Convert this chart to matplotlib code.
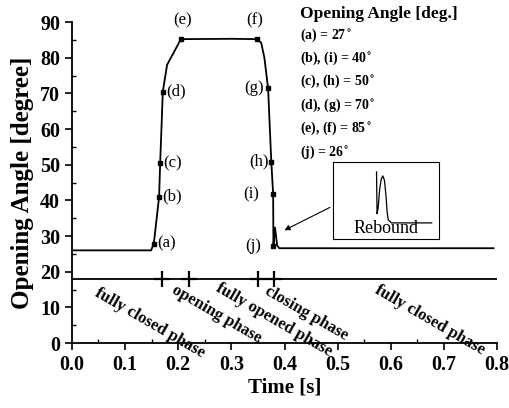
import matplotlib
matplotlib.use('Agg')
import matplotlib.pyplot as plt
from matplotlib.ticker import MultipleLocator

plt.rcParams['font.family'] = ['Liberation Serif', 'DejaVu Serif']
plt.rcParams['font.weight'] = 'bold'

# opening angle curve
time = [0.0, 0.149, 0.154, 0.164, 0.166, 0.171, 0.179, 0.205, 0.300, 0.348,
        0.356, 0.362, 0.369, 0.375, 0.3785, 0.379, 0.382, 0.386, 0.390, 0.793]
angle = [26.0, 26.0, 27.9, 41.0, 50.5, 70.5, 78.0, 85.2, 85.3, 85.2,
         84.2, 80.0, 71.4, 50.8, 41.8, 27.1, 32.4, 27.4, 26.6, 26.6]

# marked points (a)..(j)
mark_t = [0.154, 0.164, 0.166, 0.171, 0.205, 0.348, 0.369, 0.375, 0.3785, 0.379]
mark_v = [27.9, 41.0, 50.5, 70.5, 85.2, 85.2, 71.4, 50.8, 41.8, 27.1]
mark_names = ['(a)', '(b)', '(c)', '(d)', '(e)', '(f)', '(g)', '(h)', '(i)', '(j)']

# phase bar
phase_level = 18
phase_edges = [0.17, 0.22, 0.35, 0.38]
phase_names = ['fully closed phase', 'opening phase', 'fully opened phase',
               'closing phase', 'fully closed phase']
phase_label_t = [0.147, 0.273, 0.380, 0.441, 0.674]
phase_label_v = [5.6, 8.2, 6.5, 8.2, 6.5]

legend_title = 'Opening Angle [deg.]'
legend_items = ['(a) = 27$^{\\circ}$', '(b), (i) = 40$^{\\circ}$', '(c), (h) = 50$^{\\circ}$',
                '(d), (g) = 70$^{\\circ}$', '(e), (f) = 85$^{\\circ}$', '(j) = 26$^{\\circ}$']

# rebound close-up (inset, relative units)
inset_x = [0.41, 0.415, 0.425, 0.44, 0.455, 0.47, 0.485, 0.50, 0.51, 0.52, 0.55, 0.93]
inset_y = [0.87, 0.33, 0.40, 0.65, 0.78, 0.82, 0.76, 0.55, 0.35, 0.25, 0.21, 0.21]

fig = plt.figure(figsize=(5.1, 4.08), dpi=100)
ax = fig.add_axes([0.141, 0.159, 0.834, 0.787])

ax.plot(time, angle, color='black', lw=1.3)
ax.plot(mark_t, mark_v, 's', color='black', ms=3.2)
ax.axhline(phase_level, color='black', lw=1.3)
ax.plot(phase_edges, [phase_level] * len(phase_edges), '+', color='black', ms=12, mew=1.6)

# labels of the marked points
offs = {'(a)': (3, 0, 'left'), '(b)': (3, 0, 'left'), '(c)': (3, 0, 'left'),
        '(d)': (3, 0, 'left'), '(e)': (2, 19, 'center'), '(f)': (-2, 19, 'center'),
        '(g)': (-4, 0, 'right'), '(h)': (-3, 0, 'right'), '(i)': (-14, 0, 'right'),
        '(j)': (-12, 0, 'right')}
for t, v, n in zip(mark_t, mark_v, mark_names):
    dx, dy, ha = offs[n]
    ax.annotate(n, (t, v), xytext=(dx, dy), textcoords='offset pixels',
                ha=ha, va='center', fontsize=12, fontweight='normal')

for n, t, v in zip(phase_names, phase_label_t, phase_label_v):
    ax.text(t, v, n, rotation=-30, rotation_mode='anchor', ha='center', va='center',
            fontsize=12, fontweight='bold')

fig.text(300 / 510, 1 - 14 / 408, legend_title, fontsize=12.5, va='center')
for i, s in enumerate(legend_items):
    fig.text(300 / 510, 1 - (35 + 23.4 * i) / 408, s, fontsize=10, va='center')

ax.set_xlim(0, 0.8)
ax.set_ylim(0, 90)
ax.xaxis.set_major_locator(MultipleLocator(0.1))
ax.xaxis.set_minor_locator(MultipleLocator(0.05))
ax.yaxis.set_major_locator(MultipleLocator(10))
ax.yaxis.set_minor_locator(MultipleLocator(5))
ax.tick_params(which='major', direction='out', length=5, width=1.2, labelsize=14.5)
ax.tick_params(which='minor', direction='in', length=3, width=1)
ax.xaxis.set_major_formatter(matplotlib.ticker.FormatStrFormatter('%.1f'))
for s in ['top', 'right']:
    ax.spines[s].set_visible(False)
for s in ['left', 'bottom']:
    ax.spines[s].set_linewidth(1.3)
ax.set_xlabel('Time [s]', fontsize=15, fontweight='bold', labelpad=2)
ax.set_ylabel('Opening Angle [degree]', fontsize=18, fontweight='bold', labelpad=4)

ax.annotate('', xy=(0.395, 31.3), xytext=(0.49, 38.4),
            arrowprops=dict(arrowstyle='-|>', color='black', lw=0.8, mutation_scale=8))

ins = fig.add_axes([0.653, 0.414, 0.208, 0.189])
ins.plot(inset_x, inset_y, color='black', lw=0.9)
ins.set_xlim(0, 1)
ins.set_ylim(0, 1)
ins.set_xticks([])
ins.set_yticks([])
for s in ins.spines.values():
    s.set_linewidth(0.8)
ins.text(0.5, 0.03, 'Rebound', ha='center', va='bottom', fontsize=13, fontweight='normal')

fig.savefig('out.png', dpi=100)
